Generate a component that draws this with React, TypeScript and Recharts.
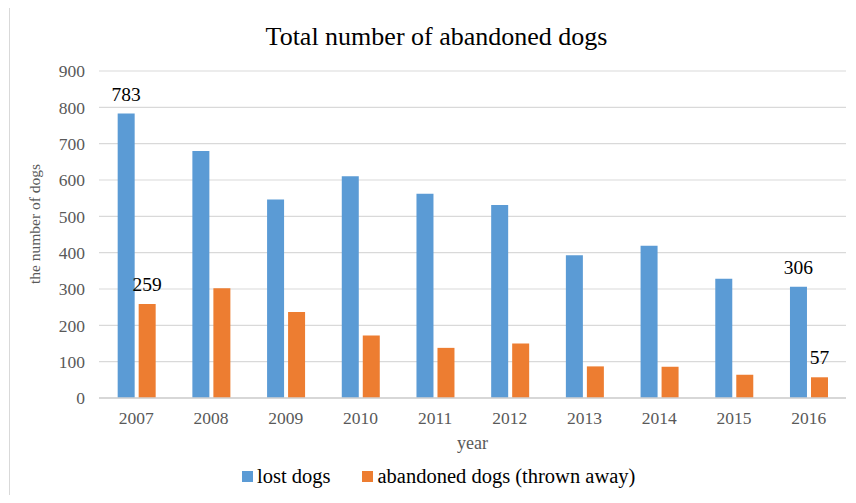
import React from 'react';
import { BarChart, Bar, XAxis, YAxis, CartesianGrid, Legend, LabelList, Label } from 'recharts';

const years = ['2007', '2008', '2009', '2010', '2011', '2012', '2013', '2014', '2015', '2016'];
const lostDogs = [783, 680, 546, 610, 562, 531, 393, 419, 328, 306];
const abandonedDogs = [259, 302, 237, 172, 138, 150, 87, 86, 64, 57];
const labeledYears = ['2007', '2016'];
const yTicks = [0, 100, 200, 300, 400, 500, 600, 700, 800, 900];
const seriesNames = ['lost dogs', 'abandoned dogs (thrown away)'];

const FONT = "'Liberation Serif', 'Times New Roman', serif";
const GRID = '#d9d9d9';
const AXIS_TEXT = '#595959';

const data = years.map((year, i) => ({
  year,
  lost: lostDogs[i],
  abandoned: abandonedDogs[i],
  lostLabel: labeledYears.includes(year) ? lostDogs[i] : undefined,
  abandonedLabel: labeledYears.includes(year) ? abandonedDogs[i] : undefined,
}));

const renderLegend = (props: any) => {
  const items = [...(props.payload || [])].sort(
    (a: any, b: any) => seriesNames.indexOf(a.value) - seriesNames.indexOf(b.value)
  );
  return (
    <div
      style={{
        display: 'flex',
        alignItems: 'center',
        fontFamily: FONT,
        fontSize: 20.5,
        color: '#000',
        whiteSpace: 'nowrap',
      }}
    >
      {items.map((p: any, i: number) => (
        <span key={i} style={{ display: 'flex', alignItems: 'center', marginLeft: i ? 32 : 0, fontFamily: FONT }}>
          <span style={{ display: 'inline-block', width: 11, height: 11, background: p.color, marginRight: 4 }} />
          {p.value}
        </span>
      ))}
    </div>
  );
};

const renderYLabel = () => (
  <text
    x={40}
    y={224}
    transform="rotate(-90 40 224)"
    textAnchor="middle"
    fill={AXIS_TEXT}
    style={{ fontFamily: FONT, fontSize: 15.5 }}
  >
    the number of dogs
  </text>
);

export default function App() {
  return (
    <div style={{ position: 'relative', width: 856, height: 503, margin: -8, overflow: 'hidden', background: '#fff' }}>
      <div
        style={{
          position: 'absolute',
          left: 9,
          top: 7,
          width: 900,
          height: 600,
          border: `1px solid ${GRID}`,
          boxSizing: 'border-box',
          pointerEvents: 'none',
        }}
      />
      <div
        style={{
          position: 'absolute',
          left: 0,
          top: 22,
          width: 873,
          textAlign: 'center',
          fontFamily: FONT,
          fontSize: 26,
          color: '#000',
          lineHeight: 'normal',
        }}
      >
        Total number of abandoned dogs
      </div>
      <div style={{ position: 'absolute', left: 0, top: 0, fontFamily: FONT }}>
        <BarChart
          width={856}
          height={503}
          data={data}
          margin={{ top: 71, right: 10, bottom: 0, left: 0 }}
          barCategoryGap="25%"
          barGap={4}
        >
          <CartesianGrid vertical={false} stroke={GRID} strokeWidth={1.2} />
          <XAxis
            dataKey="year"
            height={105}
            interval={0}
            tickLine={false}
            tickSize={0}
            tickMargin={13.5}
            axisLine={{ stroke: '#d0d0d0', strokeWidth: 1.4 }}
            tick={{ fill: AXIS_TEXT, fontSize: 17.5, fontFamily: FONT }}
          >
            <Label value="year" position="insideTop" offset={38} fill={AXIS_TEXT} fontSize={18} fontFamily={FONT} />
          </XAxis>
          <YAxis
            width={99}
            domain={[0, 900]}
            ticks={yTicks}
            interval={0}
            tickLine={false}
            axisLine={false}
            tickSize={0}
            tickMargin={14}
            tick={{ fill: AXIS_TEXT, fontSize: 17.5, fontFamily: FONT }}
          >
            <Label content={renderYLabel} />
          </YAxis>
          <Legend
            layout="horizontal"
            verticalAlign="middle"
            content={renderLegend}
            wrapperStyle={{ top: 465, left: 242, width: 'auto', height: 'auto' }}
          />
          <Bar dataKey="lost" name={seriesNames[0]} fill="#5B9BD5" isAnimationActive={false}>
            <LabelList dataKey="lostLabel" position="top" offset={13} fill="#000" fontSize={19.5} fontFamily={FONT} />
          </Bar>
          <Bar dataKey="abandoned" name={seriesNames[1]} fill="#ED7D31" isAnimationActive={false}>
            <LabelList dataKey="abandonedLabel" position="top" offset={13} fill="#000" fontSize={19.5} fontFamily={FONT} />
          </Bar>
        </BarChart>
      </div>
    </div>
  );
}
